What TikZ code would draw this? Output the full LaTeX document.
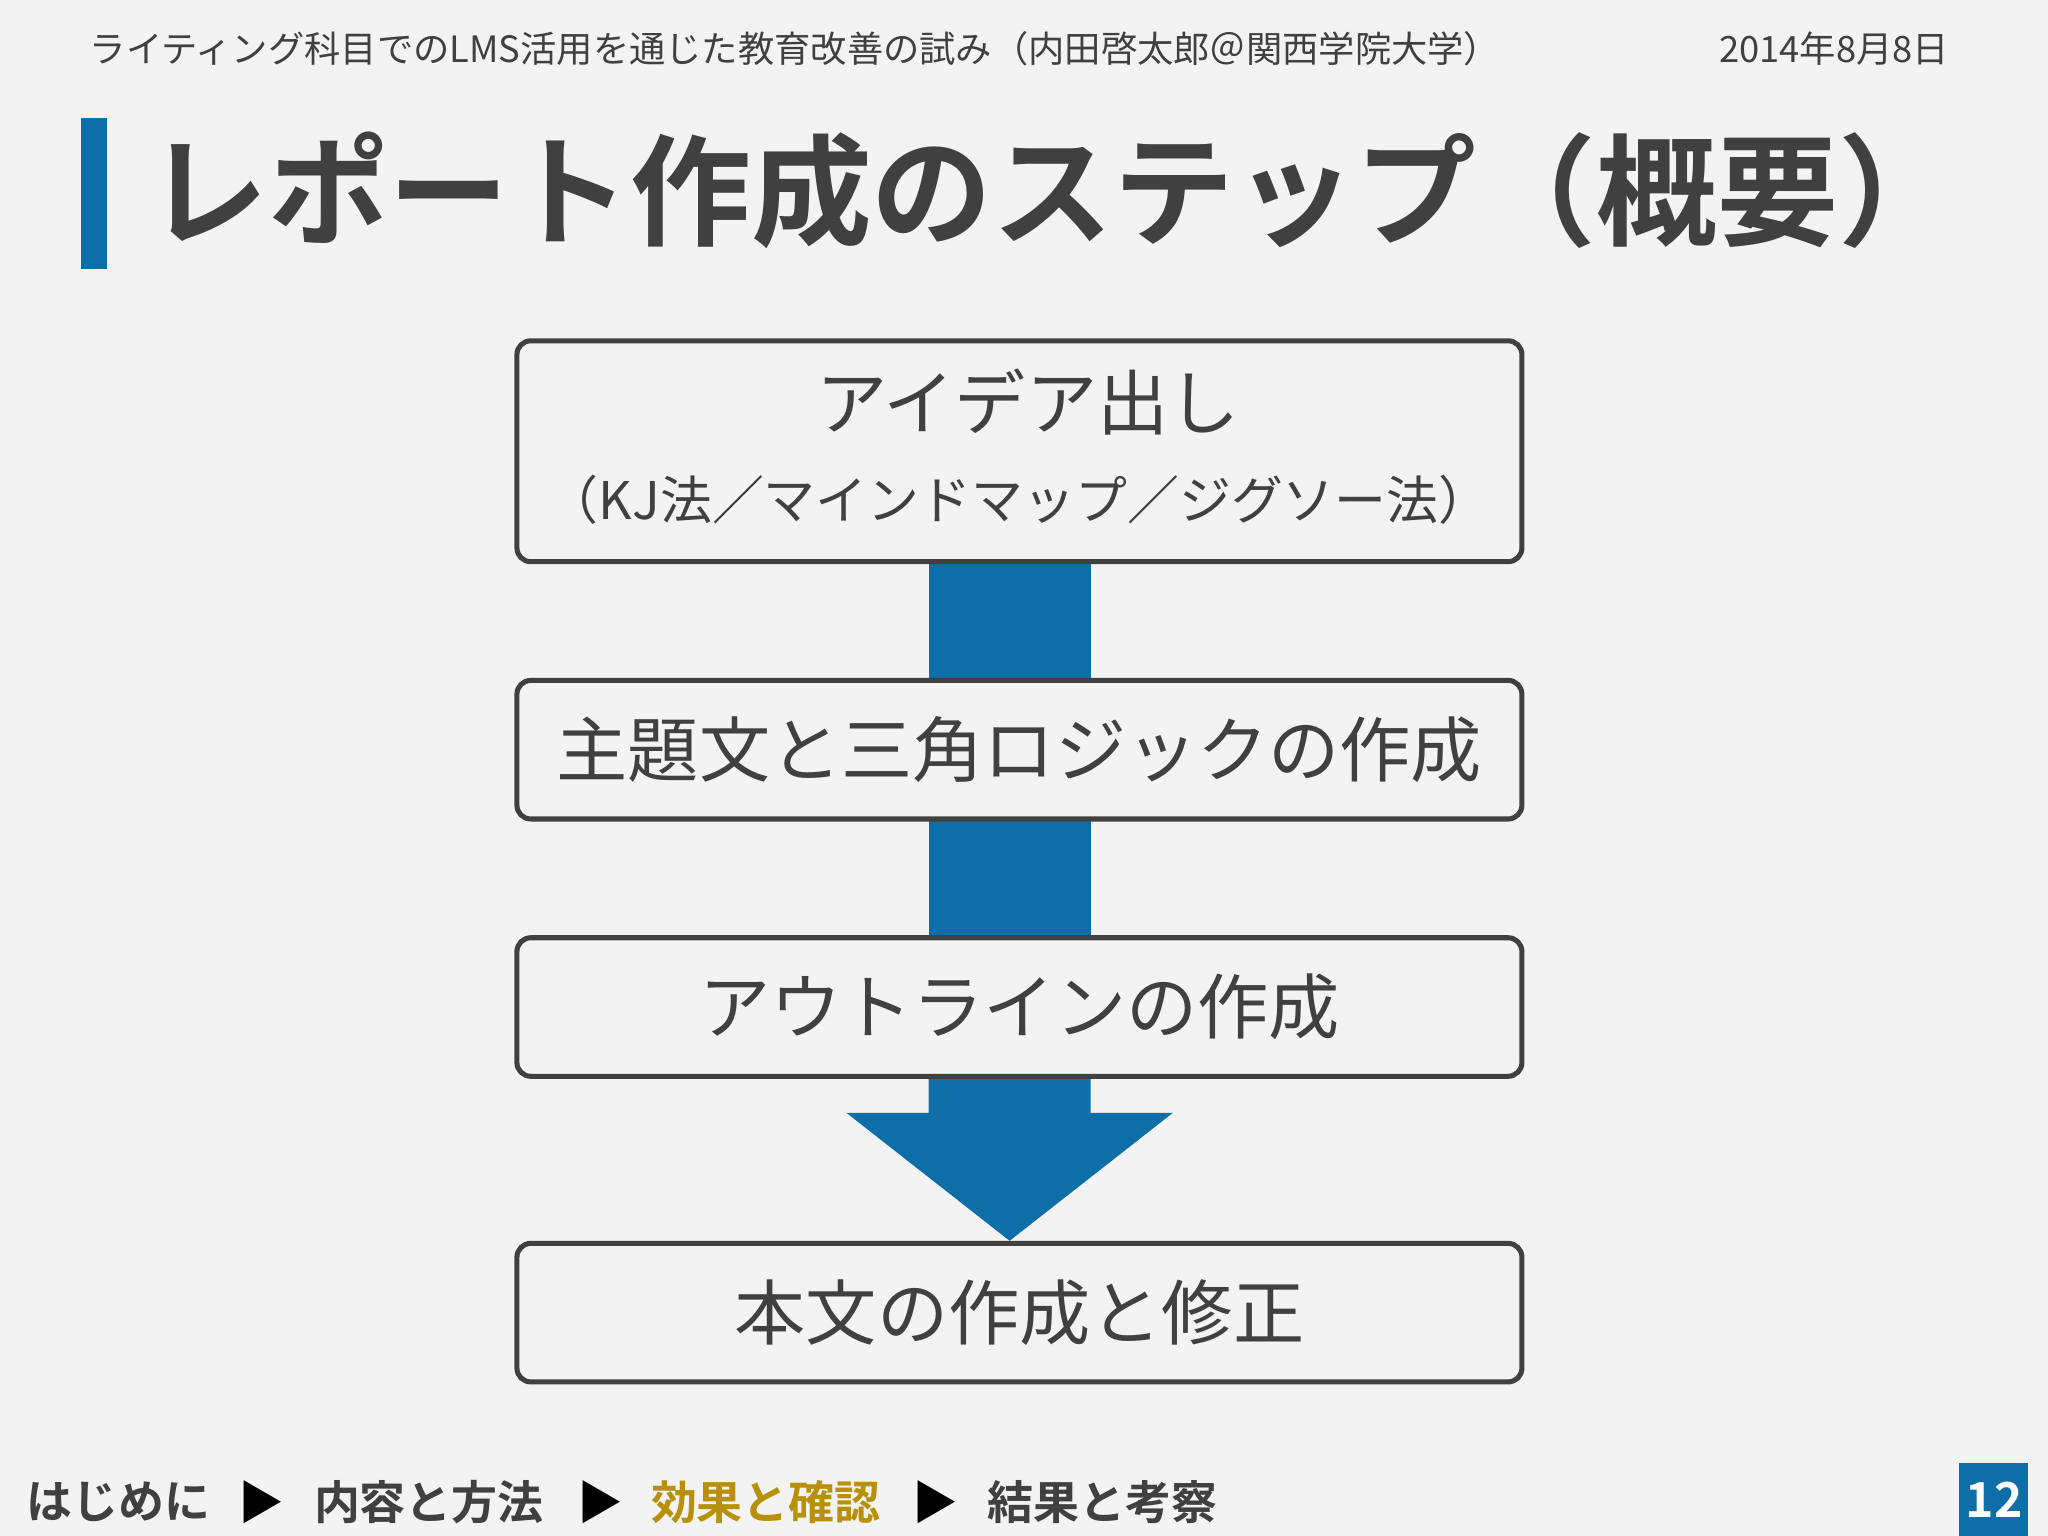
\documentclass[tikz,border=0pt]{standalone}
\usepackage{fontspec}
\setmainfont{Noto Sans CJK JP}
\newfontfamily\jpb{Noto Sans CJK JP Bold}
\definecolor{bg}{HTML}{F3F3F4}
\definecolor{kblue}{HTML}{0E6FA8}
\definecolor{kgray}{HTML}{404040}
\definecolor{kgold}{HTML}{B8900A}
\tikzset{
  stepbox/.style={draw=kgray,line width=1.1pt,rounded corners=3pt,fill=bg,minimum width=7.69cm,inner sep=0pt},
  boxtxt/.style={font=\fontsize{15.5}{18}\selectfont,text=kgray},
  foot/.style={font=\jpb\fontsize{10}{12}\selectfont,text=kgray,anchor=west}
}
\begin{document}
\begin{tikzpicture}[x=0.01cm,y=-0.01cm]
\fill[bg] (0,0) rectangle (1568,1176);
\useasboundingbox (0,0) rectangle (1568,1176);
\node[anchor=west,font=\fontsize{7.9}{9}\selectfont,text=kgray,inner sep=0pt] (hdr) at (68,37) {ライティング科目でのLMS活用を通じた教育改善の試み（内田啓太郎＠関西学院大学）};
\node[anchor=east,font=\fontsize{7.9}{9}\selectfont,text=kgray,inner sep=0pt] (date) at (1493,37) {2014年8月8日};
\fill[kblue] (62,90) rectangle (82,206);
\node[anchor=west,font=\jpb\fontsize{26.3}{30}\selectfont,text=kgray,inner sep=0pt] (title) at (112,146) {レポート作成のステップ（概要）};
% arrows
\fill[kblue] (711,430) rectangle (835,521);
\fill[kblue] (711,627) rectangle (835,718);
\fill[kblue] (711,824) -- (835,824) -- (835,852) -- (898,852) -- (773,950) -- (648,852) -- (711,852) -- cycle;
\node[stepbox,minimum height=1.69cm] (b1) at (780.5,345.5) {};
\node[boxtxt] (b1a) at (787,308) {アイデア出し};
\node[font=\fontsize{11.3}{13}\selectfont,text=kgray] (b1b) at (780,383) {（KJ法／マインドマップ／ジグソー法）};
\node[stepbox,minimum height=1.06cm,boxtxt] (b2) at (780.5,574) {主題文と三角ロジックの作成};
\node[stepbox,minimum height=1.06cm,boxtxt] (b3) at (780.5,771) {アウトラインの作成};
\node[stepbox,minimum height=1.06cm,boxtxt] (b4) at (780.5,1005) {本文の作成と修正};
% footer
\node[foot] (f1) at (8,1150) {はじめに};
\node[foot,text=black] (t1) at (170,1150) {▶};
\node[foot] (f2) at (228,1150) {内容と方法};
\node[foot,text=black] (t2) at (430,1150) {▶};
\node[foot,text=kgold] (f3) at (486,1150) {効果と確認};
\node[foot,text=black] (t3) at (686,1150) {▶};
\node[foot] (f4) at (744,1150) {結果と考察};
\fill[kblue] (1500,1120) rectangle (1553,1176);
\node[font=\jpb\fontsize{10.5}{12}\selectfont,text=white] (pg) at (1527,1148) {12};
\end{tikzpicture}
\end{document}
